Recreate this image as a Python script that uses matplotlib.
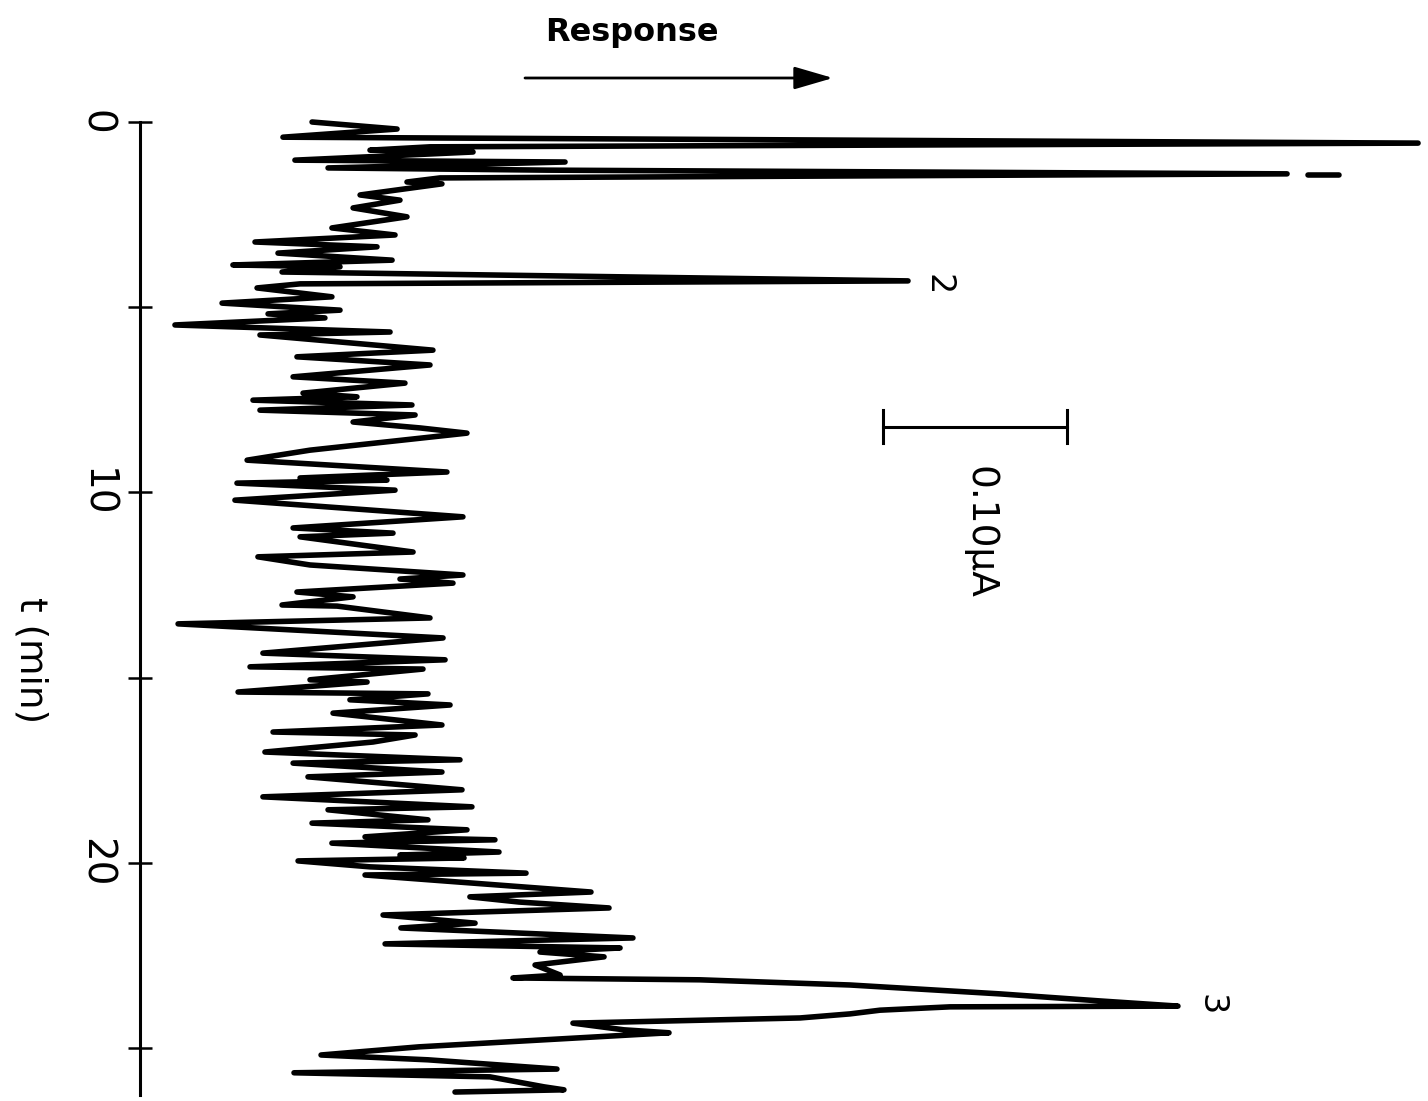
import matplotlib
matplotlib.use("Agg")
import matplotlib.pyplot as plt

# Chromatogram trace: elution time (min) against detector current (nA)
time_min = [0.00, 0.19, 0.41, 0.57, 0.67, 0.76, 0.81, 1.03, 1.08, 1.24,
            1.30, 1.40, 1.51, 1.62, 1.67, 1.97, 2.11, 2.32, 2.56, 2.86,
            3.05, 3.24, 3.37, 3.54, 3.73, 3.86, 3.91, 4.05, 4.29, 4.37,
            4.48, 4.72, 4.89, 5.08, 5.18, 5.29, 5.48, 5.67, 5.75, 6.16,
            6.34, 6.56, 6.88, 7.05, 7.32, 7.42, 7.51, 7.64, 7.78, 7.91,
            8.10, 8.26, 8.40, 8.86, 9.13, 9.45, 9.61, 9.67, 9.75, 9.94,
            10.21, 10.66, 10.96, 11.10, 11.20, 11.61, 11.74, 11.96, 12.23, 12.34,
            12.45, 12.69, 12.82, 13.04, 13.07, 13.39, 13.55, 13.93, 14.34, 14.52,
            14.71, 14.77, 15.06, 15.12, 15.39, 15.44, 15.60, 15.74, 15.96, 16.28,
            16.47, 16.55, 16.74, 17.01, 17.22, 17.31, 17.55, 17.68, 18.03, 18.22,
            18.49, 18.57, 18.84, 18.93, 19.11, 19.30, 19.38, 19.47, 19.71, 19.79,
            19.87, 19.95, 20.11, 20.28, 20.33, 20.79, 20.92, 21.06, 21.22, 21.41,
            21.63, 21.76, 22.03, 22.19, 22.30, 22.41, 22.54, 22.76, 23.03, 23.11,
            23.16, 23.30, 23.54, 23.73, 23.87, 23.89, 23.98, 24.08, 24.19, 24.33,
            24.51, 24.59, 24.97, 25.19, 25.32, 25.57, 25.67, 25.78, 26.05, 26.13,
            26.19]

response_nA = [93.5, 139.7, 77.7, 694.6, 157.6, 125.0, 181.0, 84.2, 231.0, 102.2,
               221.2, 623.4, 163.0, 145.1, 164.1, 119.6, 141.3, 115.8, 145.1, 104.3,
               138.6, 62.5, 128.8, 75.0, 137.0, 50.5, 108.7, 77.2, 417.4, 87.0,
               63.6, 104.3, 44.6, 108.7, 69.6, 100.5, 19.0, 135.9, 65.2, 159.2,
               85.3, 157.6, 83.2, 144.0, 88.6, 117.9, 61.4, 147.8, 65.2, 149.5,
               115.8, 152.2, 177.7, 92.4, 58.2, 166.8, 87.0, 134.2, 52.7, 138.6,
               51.6, 175.5, 83.2, 137.5, 87.0, 148.4, 64.1, 92.4, 175.5, 141.3,
               170.1, 85.3, 115.8, 77.2, 107.1, 157.6, 20.7, 164.7, 66.8, 165.8,
               59.8, 153.8, 92.4, 123.4, 53.3, 156.5, 114.1, 168.5, 104.9, 164.1,
               72.3, 149.5, 126.6, 67.9, 173.9, 83.2, 164.1, 91.3, 175.0, 66.8,
               180.4, 102.2, 156.5, 93.5, 177.7, 122.3, 192.9, 104.3, 195.1, 141.3,
               176.1, 85.9, 125.0, 209.8, 122.3, 245.1, 179.3, 206.0, 254.9, 132.1,
               182.1, 141.8, 267.9, 133.2, 260.9, 217.4, 252.2, 214.7, 228.3, 202.7,
               304.3, 385.9, 467.4, 521.7, 564.1, 440.2, 402.2, 385.9, 358.7, 235.3,
               263.0, 287.5, 151.6, 98.4, 156.5, 226.6, 83.7, 190.2, 219.6, 230.4,
               171.2]

# Off-scale tail of the second early peak (pen trace continues after a gap)
tail_time_min = [1.43, 1.43]
tail_response_nA = [634.8, 651.6]

# Labelled peaks
peak_labels = ["2", "3"]
peak_time_min = [4.40, 23.82]
peak_label_nA = [433.7, 582.0]

# Current scale bar: 0.10 uA = 100 nA
scale_start_nA = 404.0
scale_length_nA = 100.0
scale_time_min = 8.23
scale_label = "0.10\u03bcA"

time_ticks = [0, 5, 10, 15, 20, 25]
time_tick_labels = ["0", "", "10", "", "20", ""]

fig = plt.figure(figsize=(14.28, 11.01), dpi=100)
ax = fig.add_axes([140 / 1428, 6 / 1101, 1288 / 1428, 973 / 1101])

ax.plot(response_nA, time_min, color="black", lw=4.0,
        solid_joinstyle="round", solid_capstyle="round", clip_on=False)
ax.plot(tail_response_nA, tail_time_min, color="black", lw=4.0,
        solid_capstyle="round", clip_on=False)

ax.set_xlim(0, 700)
ax.set_ylim(26.27, 0)

# Only the time axis is drawn, as a vertical line with crossing ticks
for side in ("top", "right", "bottom"):
    ax.spines[side].set_visible(False)
ax.spines["left"].set_linewidth(2.2)
ax.set_xticks([])
ax.set_yticks(time_ticks)
ax.set_yticklabels(time_tick_labels)
ax.tick_params(axis="y", direction="inout", length=17, width=1.8,
               pad=9.5, labelsize=28, labelrotation=270)
for lbl in ax.get_yticklabels():
    lbl.set_va("center")

ax.set_ylabel("t (min)", fontsize=27, rotation=270, ha="center", va="center")
ax.yaxis.set_label_coords(-0.0854, 0.447)

# Scale bar with end caps
cap = 0.445
x0, x1 = scale_start_nA, scale_start_nA + scale_length_nA
ax.plot([x0, x1], [scale_time_min, scale_time_min], color="black", lw=2.2)
ax.plot([x0, x0], [scale_time_min - cap, scale_time_min + cap], color="black", lw=2.2)
ax.plot([x1, x1], [scale_time_min - cap, scale_time_min + cap], color="black", lw=2.2)
ax.text(456, 11.07, scale_label, rotation=270, fontsize=27,
        ha="center", va="center")

for lab, t, r in zip(peak_labels, peak_time_min, peak_label_nA):
    ax.text(r, t, lab, rotation=270, fontsize=24, ha="center", va="center")

# Direction of increasing detector response
fig.text(632 / 1428, 1 - 33 / 1101, "Response", fontsize=23, fontweight="bold",
         ha="center", va="center")
ax.annotate("", xy=(833 / 1428, 1 - 78 / 1101), xytext=(525 / 1428, 1 - 78 / 1101),
            xycoords="figure fraction", textcoords="figure fraction",
            arrowprops=dict(arrowstyle="-|>,head_length=1.2,head_width=0.35",
                            mutation_scale=20, lw=2, color="black",
                            shrinkA=0, shrinkB=0))

fig.savefig("out.png", dpi=100, facecolor="white")
